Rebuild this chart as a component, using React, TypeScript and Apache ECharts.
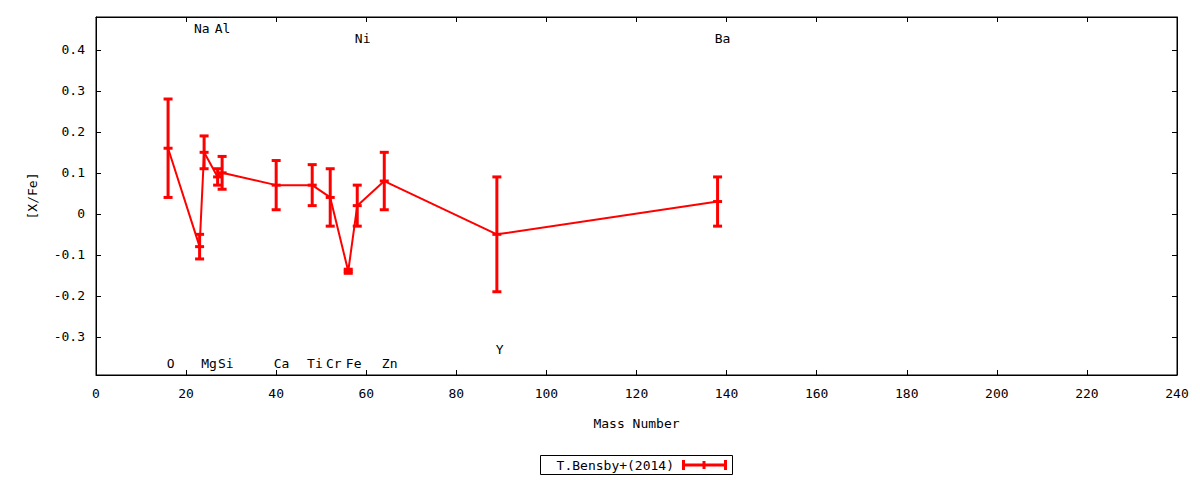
import React, { useEffect, useRef } from "react";
import * as echarts from "echarts";

// Measurements: mass number, [X/Fe], error
const massNumbers = [16, 23, 24, 27, 28, 40, 48, 52, 56, 58, 64, 89, 138];
const abundances = [0.16, -0.08, 0.15, 0.09, 0.1, 0.07, 0.07, 0.04, -0.14, 0.02, 0.08, -0.05, 0.03];
const errors = [0.12, 0.03, 0.04, 0.02, 0.04, 0.06, 0.05, 0.07, 0.005, 0.05, 0.07, 0.14, 0.06];

// Element labels (placed in data coordinates)
const labelNames = ["O", "Na", "Mg", "Al", "Si", "Ca", "Ti", "Cr", "Fe", "Ni", "Zn", "Y", "Ba"];
const labelX = [16.6, 23.5, 25.1, 28.1, 28.8, 41.2, 48.6, 52.8, 57.2, 59.2, 65.2, 89.6, 139.1];
const labelY = [-0.366, 0.453, -0.366, 0.453, -0.366, -0.366, -0.366, -0.366, -0.366, 0.4285, -0.366, -0.332, 0.4285];

const yTicks = [-0.3, -0.2, -0.1, 0, 0.1, 0.2, 0.3, 0.4];
const seriesName = "T.Bensby+(2014)";

const FONT = "'DejaVu Sans Mono', monospace";
const RED = "#ff0000";

export default function App() {
  const ref = useRef<HTMLDivElement>(null);
  useEffect(() => {
    if (!ref.current) return;
    const chart = echarts.init(ref.current, null, { renderer: "svg" });
    const lineData = massNumbers.map((m, i) => [m, abundances[i]]);
    const errData = massNumbers.map((m, i) => [m, abundances[i], errors[i]]);
    const labelData = labelNames.map((_, i) => [labelX[i], labelY[i]]);
    const xMin = 0, xMax = 240, yMin = -0.393, yMax = 0.48;
    const tickCommon = { show: true, inside: true, length: 5, lineStyle: { color: "#000", width: 1 } };
    const option: any = {
      animation: false,
      backgroundColor: "#fff",
      textStyle: { fontFamily: FONT },
      grid: { left: 96, right: 23, top: 17, bottom: 105, show: true, borderColor: "#000", borderWidth: 1, backgroundColor: "transparent" },
      xAxis: [
        {
          type: "value", min: xMin, max: xMax, interval: 20, position: "bottom",
          name: "Mass Number", nameLocation: "middle", nameGap: 42,
          nameTextStyle: { fontFamily: FONT, fontSize: 13, color: "#000" },
          axisLine: { show: true, onZero: false, lineStyle: { color: "#000", width: 1 } },
          axisTick: tickCommon,
          axisLabel: { fontFamily: FONT, fontSize: 13, color: "#000", margin: 12 },
          splitLine: { show: false },
        },
        {
          type: "value", min: xMin, max: xMax, interval: 20, position: "top",
          axisLine: { show: true, onZero: false, lineStyle: { color: "#000", width: 1 } },
          axisTick: tickCommon,
          axisLabel: { show: false },
          splitLine: { show: false },
        },
      ],
      yAxis: [
        {
          type: "value", min: yMin, max: yMax, position: "left",
          name: "[X/Fe]", nameLocation: "middle", nameGap: 57, nameRotate: 90,
          nameTextStyle: { fontFamily: FONT, fontSize: 13, color: "#000" },
          axisLine: { show: true, onZero: false, lineStyle: { color: "#000", width: 1 } },
          axisTick: { ...tickCommon, customValues: yTicks },
          axisLabel: { fontFamily: FONT, fontSize: 13, color: "#000", margin: 11, customValues: yTicks },
          splitLine: { show: false },
        },
        {
          type: "value", min: yMin, max: yMax, position: "right",
          axisLine: { show: true, onZero: false, lineStyle: { color: "#000", width: 1 } },
          axisTick: { ...tickCommon, customValues: yTicks },
          axisLabel: { show: false, customValues: yTicks },
          splitLine: { show: false },
        },
      ],
      series: [
        {
          type: "line", name: seriesName, data: lineData, xAxisIndex: 0, yAxisIndex: 0,
          showSymbol: false, symbol: "none",
          lineStyle: { color: RED, width: 2 }, itemStyle: { color: RED }, z: 2,
        },
        {
          type: "custom", name: seriesName + " err", data: errData, xAxisIndex: 0, yAxisIndex: 0,
          encode: { x: 0, y: 1 }, z: 3,
          renderItem: (_params: any, api: any) => {
            const x = api.value(0), y = api.value(1), e = api.value(2);
            const top = api.coord([x, y + e]);
            const bot = api.coord([x, y - e]);
            const mid = api.coord([x, y]);
            const hw = 4.5;
            const style = { stroke: RED, lineWidth: 3, fill: null };
            const h = (p: number[]) => ({ type: "line", shape: { x1: p[0] - hw, y1: p[1], x2: p[0] + hw, y2: p[1] }, style });
            return {
              type: "group",
              children: [
                { type: "line", shape: { x1: top[0], y1: top[1], x2: bot[0], y2: bot[1] }, style },
                h(top), h(bot), h(mid),
              ],
            };
          },
        },
        {
          type: "custom", name: "labels", data: labelData, xAxisIndex: 0, yAxisIndex: 0,
          encode: { x: 0, y: 1 }, z: 4, silent: true,
          renderItem: (params: any, api: any) => {
            const p = api.coord([api.value(0), api.value(1)]);
            return {
              type: "text", x: p[0], y: p[1],
              style: { text: labelNames[params.dataIndex], fill: "#000", font: `13px ${FONT}`, textAlign: "center", textVerticalAlign: "middle" },
            };
          },
        },
      ],
      graphic: [
        { type: "rect", silent: true, shape: { x: 540.5, y: 455.5, width: 192, height: 19 }, style: { fill: "#fff", stroke: "#000", lineWidth: 1 } },
        { type: "text", silent: true, x: 674, y: 465.5, style: { text: seriesName, fill: "#000", font: `13px ${FONT}`, textAlign: "right", textVerticalAlign: "middle" } },
        { type: "line", silent: true, shape: { x1: 683.5, y1: 465, x2: 725.5, y2: 465 }, style: { stroke: RED, lineWidth: 3 } },
        { type: "line", silent: true, shape: { x1: 683.5, y1: 460, x2: 683.5, y2: 470 }, style: { stroke: RED, lineWidth: 3 } },
        { type: "line", silent: true, shape: { x1: 725.5, y1: 460, x2: 725.5, y2: 470 }, style: { stroke: RED, lineWidth: 3 } },
        { type: "line", silent: true, shape: { x1: 704, y1: 461, x2: 704, y2: 469 }, style: { stroke: RED, lineWidth: 3 } },
      ],
    };
    chart.setOption(option);
    return () => chart.dispose();
  }, []);
  return <div ref={ref} style={{ position: "fixed", left: 0, top: 0, width: 1200, height: 480 }} />;
}
